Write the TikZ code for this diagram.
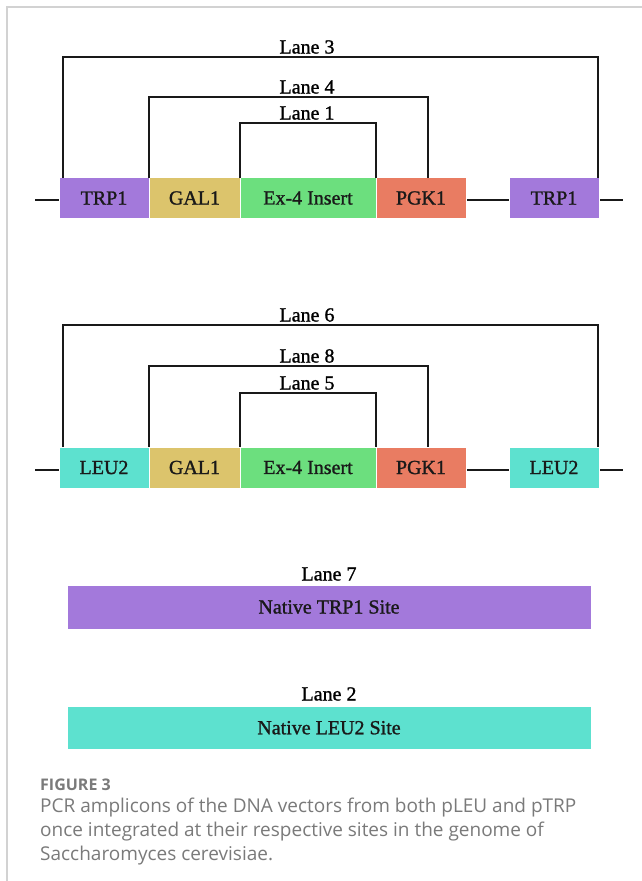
\documentclass[tikz,border=0pt]{standalone}
\usepackage{fontspec}
\setmainfont{Liberation Serif}
\newfontfamily\diafont[FakeBold=1.2]{Liberation Serif}
\newfontfamily\capfont{Open Sans}
\definecolor{cpurple}{HTML}{A379DB}
\definecolor{cyellow}{HTML}{DCC46C}
\definecolor{cgreen}{HTML}{6CDF7E}
\definecolor{corange}{HTML}{E97C62}
\definecolor{cteal}{HTML}{5DE1CF}
\definecolor{cframe}{HTML}{D2D2D2}
\definecolor{ccap}{HTML}{7A7A7A}
\begin{document}
\begin{tikzpicture}[x=1pt,y=-1pt,
  gene/.style={rectangle,draw=white,line width=0.6pt,inner sep=0pt,outer sep=0pt,
    minimum height=41pt,font=\diafont\fontsize{20}{24}\selectfont,text=black!90},
  site/.style={rectangle,draw=white,line width=0.6pt,inner sep=0pt,outer sep=0pt,
    minimum width=524pt,font=\diafont\fontsize{20}{24}\selectfont,text=black!90},
  lanelab/.style={anchor=base,inner sep=0pt,font=\diafont\fontsize{20}{24}\selectfont},
  br/.style={line width=1.8pt,black!90},
  backbone/.style={line width=2.5pt,black!90},
  caption/.style={anchor=base west,inner sep=0pt,text=ccap,font=\capfont\fontsize{19}{23}\selectfont}]
\useasboundingbox (0,0) rectangle (642,881);
\fill[white] (0,0) rectangle (642,881);
% frame
\coordinate (fTL) at (7,7);
\coordinate (fTR) at (642,7);
\coordinate (fBL) at (7,881);
\draw[cframe,line width=1.5pt] (fBL) -- (fTL) -- (fTR);

% ---------- row 1 ----------
\coordinate (bb1L) at (35,200);
\coordinate (bb1R) at (623,200);
\draw[backbone] (bb1L) -- (bb1R);
\node[gene,fill=cpurple,minimum width=90pt] (t1) at (104,198) {TRP1};
\node[gene,fill=cyellow,minimum width=91pt] (g1) at (194.5,198) {GAL1};
\node[gene,fill=cgreen,minimum width=136pt] (e1) at (308,198) {Ex-4 Insert};
\node[gene,fill=corange,minimum width=90pt] (p1) at (421,198) {PGK1};
\node[gene,fill=cpurple,minimum width=90pt] (t2) at (554,198) {TRP1};

\node[lanelab] (lane3) at (307,53.5) {Lane 3};
\node[lanelab] (lane4) at (307,93.5) {Lane 4};
\node[lanelab] (lane1) at (307,119.5) {Lane 1};
\draw[br] ([xshift=4pt]t1.north west) |- ([yshift=-3.5pt]lane3.base) -| ([xshift=-1pt]t2.north east);
\draw[br] (g1.north west) |- ([yshift=-3.5pt]lane4.base) -| ([xshift=7pt]p1.north);
\draw[br] (e1.north west) |- ([yshift=-3.5pt]lane1.base) -| (e1.north east);

% ---------- row 2 ----------
\coordinate (bb2L) at (35,470);
\coordinate (bb2R) at (623,470);
\draw[backbone] (bb2L) -- (bb2R);
\node[gene,fill=cteal,minimum width=90pt] (l1) at (104,467.5) {LEU2};
\node[gene,fill=cyellow,minimum width=91pt] (g2) at (194.5,467.5) {GAL1};
\node[gene,fill=cgreen,minimum width=136pt] (e2) at (308,467.5) {Ex-4 Insert};
\node[gene,fill=corange,minimum width=90pt] (p2) at (421,467.5) {PGK1};
\node[gene,fill=cteal,minimum width=90pt] (l2) at (554,467.5) {LEU2};

\node[lanelab] (lane6) at (307,321.5) {Lane 6};
\node[lanelab] (lane8) at (307,362.5) {Lane 8};
\node[lanelab] (lane5) at (307,389.5) {Lane 5};
\draw[br] ([xshift=4pt]l1.north west) |- ([yshift=-3.5pt]lane6.base) -| ([xshift=-1pt]l2.north east);
\draw[br] (g2.north west) |- ([yshift=-3.5pt]lane8.base) -| ([xshift=7pt]p2.north);
\draw[br] (e2.north west) |- ([yshift=-3.5pt]lane5.base) -| (e2.north east);

% ---------- native sites ----------
\node[lanelab] (lane7) at (329,580.5) {Lane 7};
\node[site,fill=cpurple,minimum height=44pt] (ntrp) at (329,607) {Native TRP1 Site};
\node[lanelab] (lane2) at (329,700.5) {Lane 2};
\node[site,fill=cteal,minimum height=43.5pt] (nleu) at (329,727.75) {Native LEU2 Site};

% ---------- caption ----------
\node[caption,font=\capfont\bfseries\fontsize{16}{19}\selectfont] (figno) at (40,790) {FIGURE 3};
\node[caption] (cap1) at (40,812) {PCR amplicons of the DNA vectors from both pLEU and pTRP};
\node[caption] (cap2) at (40,836) {once integrated at their respective sites in the genome of};
\node[caption] (cap3) at (40,860) {Saccharomyces cerevisiae.};
\end{tikzpicture}
\end{document}
